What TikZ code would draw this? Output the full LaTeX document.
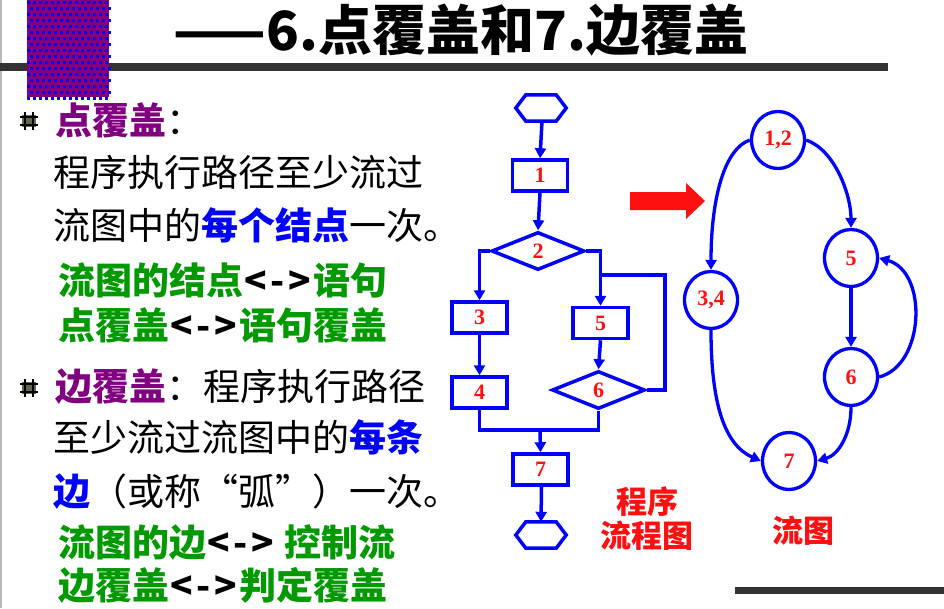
\documentclass[tikz,border=0pt]{standalone}
\usepackage{fontspec}
\setmainfont{Liberation Serif}
\newfontfamily\cjk{Noto Sans CJK SC}
\usetikzlibrary{arrows.meta,shapes.geometric,calc}
\definecolor{purp}{HTML}{800080}
\definecolor{fblue}{HTML}{0000FF}
\definecolor{tgreen}{HTML}{009900}
\definecolor{fred}{HTML}{FF1010}
\definecolor{bar}{HTML}{333333}
\definecolor{bul}{HTML}{66664D}
\newcommand\lrarr{{\color{black}\kern1pt<\kern4pt-\kern4pt>\kern2pt}}
\tikzset{
  line/.style={draw=fblue,line width=3.5pt},
  arr/.style={line,-{Triangle[length=10pt,width=11pt]}},
  stepbox/.style={draw=fblue,line width=3.5pt,minimum width=55pt,minimum height=31pt,inner sep=0pt,text=fred,font=\bfseries\fontsize{22}{24}\selectfont},
  decis/.style={diamond,draw=fblue,line width=3.5pt,minimum width=93pt,minimum height=38pt,inner sep=0pt,text=fred,font=\bfseries\fontsize{22}{24}\selectfont},
  term/.style={minimum width=50pt,minimum height=26pt,inner sep=0pt},
  gnode/.style={ellipse,draw=fblue,line width=3.3pt,minimum width=53pt,minimum height=57pt,inner sep=0pt,text=fred,font=\bfseries\fontsize{22}{24}\selectfont},
  txt/.style={anchor=west,inner sep=0pt,font=\cjk\fontsize{37}{44}\selectfont},
  gtxt/.style={txt,text=tgreen,font=\cjk\bfseries\fontsize{37}{44}\selectfont},
  lbl/.style={inner sep=0pt,text=fred,align=center,font=\cjk\bfseries\fontsize{31}{37}\selectfont},
}
\begin{document}
\begin{tikzpicture}[x=1pt,y=-1pt]
\useasboundingbox (0,0) rectangle (944,608);
\fill[white] (0,0) rectangle (944,608);
% left grey edge
\fill[gray!55] (0,0) rectangle (1.5,608);
% title bar and decoration
\fill[bar] (0,63) rectangle (888,71);
\fill[purp] (27,0) rectangle (109,97);
\foreach \i in {0,...,13}{
  \foreach \j in {0,...,16}{
    \pgfmathsetmacro\off{mod(\j,2)*3}
    \fill[fblue] (27+6*\i+\off,1+6*\j) rectangle +(3,3);
  }
}
\node[anchor=base,inner sep=0pt,font=\cjk\bfseries\fontsize{54}{58}\selectfont] (title) at (461,50) {——6.点覆盖和7.边覆盖};
% bottom right bar
\fill[bar] (735,587) rectangle (944,594);

% bullets
\foreach \by in {121,388}{
  \fill[bul] (22,\by-6) rectangle (36,\by+6);
  \draw[black,line width=1.6pt] (25,\by-9) -- (25,\by+9) (33,\by-9) -- (33,\by+9)
     (20,\by-4) -- (38,\by-4) (20,\by+4) -- (38,\by+4);
}

% left text
\node[txt] (t1) at (55,120) {{\color{purp}\bfseries 点覆盖}：};
\node[txt] (t2) at (53,172) {程序执行路径至少流过};
\node[txt] (t3) at (53,225) {流图中的{\color{fblue}\bfseries 每个结点}一次。};
\node[gtxt] (t4) at (58,280) {流图的结点\lrarr 语句};
\node[gtxt] (t5) at (58,325) {点覆盖\lrarr 语句覆盖};
\node[txt] (t6) at (55,387) {{\color{purp}\bfseries 边覆盖}：程序执行路径};
\node[txt] (t7) at (53,437) {至少流过流图中的{\color{fblue}\bfseries 每条}};
\node[txt] (t8) at (53,492) {{\color{fblue}\bfseries 边}（或称“弧”）一次。};
\node[gtxt] (t9) at (58,543) {流图的边\lrarr\kern8pt 控制流};
\node[gtxt] (t10) at (58,585) {边覆盖\lrarr 判定覆盖};

% program flowchart
\node[term] (s) at (541,108) {};
\draw[line,line join=miter] (s.west) -- ([xshift=10pt]s.north west) -- ([xshift=-10pt]s.north east) -- (s.east) -- ([xshift=-10pt]s.south east) -- ([xshift=10pt]s.south west) -- cycle;
\node[stepbox] (b1) at (540,175.5) {1};
\node[decis] (d2) at (538,251) {2};
\node[stepbox] (b3) at (479.5,317.5) {3};
\node[stepbox] (b5) at (600.5,323) {5};
\node[stepbox] (b4) at (479.5,392.5) {4};
\node[decis] (d6) at (598.5,390) {6};
\node[stepbox] (b7) at (540.5,469.5) {7};
\node[term] (e) at (541,535) {};
\draw[line,line join=miter] (e.west) -- ([xshift=10pt]e.north west) -- ([xshift=-10pt]e.north east) -- (e.east) -- ([xshift=-10pt]e.south east) -- ([xshift=10pt]e.south west) -- cycle;

\draw[arr] ([xshift=1pt]s.south) -- (b1.north);
\draw[arr] (b1.south) -- (d2.north);
\draw[arr] (d2.west) -| (b3.north);
\draw[arr] (d2.east) -| (b5.north);
\draw[arr] (b3.south) -- (b4.north);
\draw[arr] (b5.south) -- (d6.north);
\coordinate (lp) at (665,275);
\draw[line] (d6.east) -| (lp) -- (lp -| b5.north);
\coordinate (mg) at (540,430);
\draw[line] (b4.south) |- (mg) -| (d6.south);
\draw[arr] (mg) -- (b7.north);
\draw[arr] ([xshift=1pt]b7.south) -- (e.north);

\node[lbl] (lbl1) at (647,519) {程序\\[-3pt]流程图};

% red block arrow
\fill[fred] (630,192) -- (686,192) -- (686,183) -- (705,201) -- (686,219) -- (686,210) -- (630,210) -- cycle;

% flow graph
\node[gnode] (n12) at (778,140) {1,2};
\node[gnode] (n5) at (851,258) {5};
\node[gnode] (n34) at (711,300) {3,4};
\node[gnode] (n6) at (851,377) {6};
\node[gnode] (n7) at (789,461) {7};
\draw[arr,line width=3.3pt] (n12.west) .. controls (722,150) and (711,205) .. (n34.north);
\draw[arr,line width=3.3pt] (n12.east) .. controls (835,150) and (851,195) .. (n5.north);
\draw[arr,line width=3.3pt] (n5.south) -- (n6.north);
\draw[arr,line width=3.3pt] (n6.east) .. controls (925,365) and (928,272) .. (n5.east);
\draw[arr,line width=3.3pt] (n34.south) .. controls (711,405) and (725,445) .. (n7.west);
\draw[arr,line width=3.3pt] (n6.south) .. controls (851,435) and (838,455) .. (n7.east);
\node[lbl] (lbl2) at (803,531) {流图};
\end{tikzpicture}
\end{document}
